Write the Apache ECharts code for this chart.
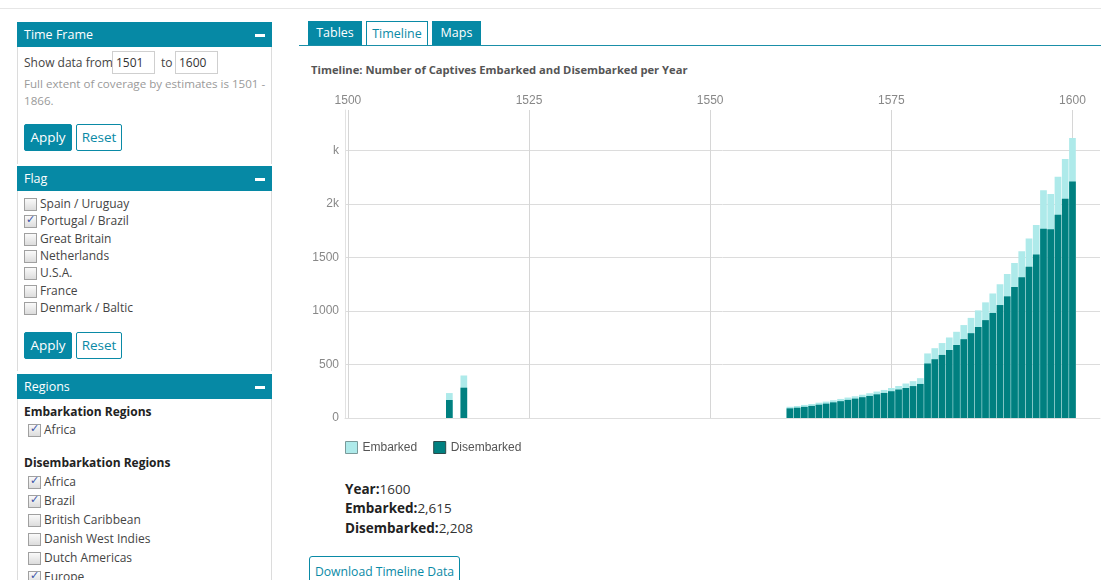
<!DOCTYPE html>
<html>
<head>
<meta charset="utf-8">
<script src="https://cdn.jsdelivr.net/npm/echarts@6/dist/echarts.min.js"></script>
<style>
  html,body{margin:0;padding:0;width:1101px;height:580px;overflow:hidden;background:#fff;font-family:"Open Sans",sans-serif;color:#444;}
  .abs{position:absolute;white-space:nowrap;}
  .topline{position:absolute;left:0;top:8px;width:1101px;height:0;border-top:1px solid #e6e6e6;}
  .panel{position:absolute;left:17px;width:253px;border:1px solid #dcdcdc;border-top:none;background:#fff;}
  .phead{position:absolute;left:17px;width:255px;height:25px;background:#0689a5;color:#fff;font-size:12.5px;line-height:25px;}
  .phead span{position:absolute;left:7px;top:0;}
  .phead i{position:absolute;right:7px;top:12px;width:10px;height:3px;background:#fff;}
  .txt{position:absolute;white-space:nowrap;font-size:12px;line-height:16px;color:#444;}
  .note{position:absolute;font-size:12px;line-height:17px;color:#9a9a9a;white-space:nowrap;}
  .inp{position:absolute;width:43px;border:1px solid #cfcfcf;font-size:12px;line-height:21px;color:#333;padding-left:3px;box-sizing:border-box;height:23px;}
  .btn{position:absolute;height:27px;box-sizing:border-box;font-size:13.5px;line-height:25px;text-align:center;border-radius:2px;white-space:nowrap;}
  .btn.fill{background:#0689a5;color:#fff;border:1px solid #0689a5;}
  .btn.line{background:#fff;color:#0a8aa6;border:1px solid #0a8aa6;}
  .cb{position:absolute;width:11px;height:11px;border:1px solid #a0a0a0;background:linear-gradient(#fafafa,#dcdcdc);}
  .cb.on::after{content:"\2713";position:absolute;left:1px;top:-3px;font-size:11px;color:#3b55a8;font-family:"DejaVu Sans",sans-serif;}
  .bold{font-weight:bold;color:#222;}
  .tab{position:absolute;top:21px;height:24px;box-sizing:border-box;font-size:12.5px;line-height:23px;text-align:center;}
  .tab.fill{background:#0689a5;color:#fff;}
  .tab.line{background:#fff;color:#0a8aa6;border:1px solid #0a8aa6;border-bottom:none;}
  .info{position:absolute;left:345px;font-size:13.5px;line-height:18px;color:#333;}
  .info b{color:#222;}
</style>
</head>
<body>
<div class="topline"></div>

<!-- Time Frame panel -->
<div class="panel" style="top:47px;height:117px;border-bottom:none;"></div>
<div class="phead" style="top:22px;"><span>Time Frame</span><i></i></div>
<div class="txt" style="left:24px;top:55px;">Show data from</div>
<div class="inp" style="left:112px;top:51px;">1501</div>
<div class="txt" style="left:161px;top:55px;">to</div>
<div class="inp" style="left:175px;top:51px;">1600</div>
<div class="note" style="left:24px;top:75px;font-size:11.6px;">Full extent of coverage by estimates is 1501 -<br>1866.</div>
<div class="btn fill" style="left:24px;top:124px;width:48px;">Apply</div>
<div class="btn line" style="left:76px;top:124px;width:46px;">Reset</div>

<!-- Flag panel -->
<div class="panel" style="top:191px;height:180px;border-bottom:none;"></div>
<div class="phead" style="top:166px;"><span>Flag</span><i></i></div>
<div id="flags"></div>
<div class="btn fill" style="left:24px;top:332px;width:48px;">Apply</div>
<div class="btn line" style="left:76px;top:332px;width:46px;">Reset</div>

<!-- Regions panel -->
<div class="panel" style="top:399px;height:200px;"></div>
<div class="phead" style="top:374px;"><span>Regions</span><i></i></div>
<div class="txt bold" style="left:24px;top:404px;">Embarkation Regions</div>
<div id="emb"></div>
<div class="txt bold" style="left:24px;top:455px;">Disembarkation Regions</div>
<div id="dis"></div>

<!-- Right side -->
<div class="tab fill" style="left:308px;width:54px;">Tables</div>
<div class="tab line" style="left:366px;width:62px;">Timeline</div>
<div class="tab fill" style="left:432px;width:49px;">Maps</div>
<div class="abs" style="left:299px;top:45px;width:802px;height:0;border-top:1px solid #1a8fa8;"></div>
<div class="txt" style="left:311px;top:62px;font-weight:bold;color:#555;font-size:11.2px;">Timeline: Number of Captives Embarked and Disembarked per Year</div>

<div id="chart" style="position:absolute;left:300px;top:85px;width:801px;height:380px;"></div>

<div class="info" style="top:480px;"><b>Year:</b>1600</div>
<div class="info" style="top:499px;"><b>Embarked:</b>2,615</div>
<div class="info" style="top:519px;"><b>Disembarked:</b>2,208</div>
<div class="btn line" style="left:309px;top:556px;width:151px;height:30px;line-height:29px;font-size:12.2px;border-radius:3px;">Download Timeline Data</div>

<script>
// ---- data ----
const xTicks = [1500, 1525, 1550, 1575, 1600];
const yTicks = [0, 500, 1000, 1500, 2000, 2500];
const yTickLabels = ['0', '500', '1000', '1500', '2k', 'k'];
const years = [1514, 1516,
  1561, 1562, 1563, 1564, 1565, 1566, 1567, 1568, 1569, 1570,
  1571, 1572, 1573, 1574, 1575, 1576, 1577, 1578, 1579, 1580,
  1581, 1582, 1583, 1584, 1585, 1586, 1587, 1588, 1589, 1590,
  1591, 1592, 1593, 1594, 1595, 1596, 1597, 1598, 1599, 1600];
const embarked = [233, 397,
  105, 112, 122, 131, 143, 153, 166, 178, 191, 203,
  217, 231, 247, 262, 280, 299, 322, 344, 372, 603,
  652, 700, 752, 805, 868, 935, 1005, 1080, 1163, 1250,
  1346, 1447, 1557, 1677, 1803, 2127, 2093, 2252, 2420, 2615];
const disembarked = [168, 283,
  90, 96, 104, 113, 124, 134, 146, 157, 169, 181,
  194, 206, 221, 234, 250, 266, 280, 298, 318, 509,
  549, 589, 635, 682, 736, 792, 850, 914, 981, 1055,
  1136, 1223, 1315, 1413, 1526, 1768, 1763, 1898, 2048, 2208];
const legendNames = ['Embarked', 'Disembarked'];
const flagNames = ['Spain / Uruguay', 'Portugal / Brazil', 'Great Britain', 'Netherlands', 'U.S.A.', 'France', 'Denmark / Baltic'];
const flagChecked = [false, true, false, false, false, false, false];
const embRegions = ['Africa'];
const embChecked = [true];
const disRegions = ['Africa', 'Brazil', 'British Caribbean', 'Danish West Indies', 'Dutch Americas', 'Europe'];
const disChecked = [true, true, false, false, false, true];

// ---- sidebar lists ----
function addList(id, names, checked, x, y0, step) {
  const host = document.getElementById(id);
  names.forEach((n, i) => {
    const cy = y0 + i * step;
    const b = document.createElement('div');
    b.className = 'cb' + (checked[i] ? ' on' : '');
    b.style.left = x + 'px'; b.style.top = (cy - 6) + 'px';
    host.appendChild(b);
    const t = document.createElement('div');
    t.className = 'txt';
    t.textContent = n;
    t.style.left = (x + 16) + 'px'; t.style.top = (cy - 8) + 'px';
    host.appendChild(t);
  });
}
addList('flags', flagNames, flagChecked, 24, 204, 17.3);
addList('emb', embRegions, embChecked, 28, 430, 19);
addList('dis', disRegions, disChecked, 28, 482, 19);

// ---- chart ----
const chart = echarts.init(document.getElementById('chart'), null, {renderer: 'canvas'});
const font = 'Liberation Sans, Arial, sans-serif';
chart.setOption({
  animation: false,
  textStyle: {fontFamily: font},
  grid: {left: 45, right: 1, top: 25, bottom: 47, containLabel: false},
  legend: {
    left: 45, top: 356, padding: 0, itemWidth: 12, itemHeight: 12, itemGap: 16,
    icon: 'rect',
    textStyle: {color: '#555', fontSize: 12, fontFamily: font},
    data: [
      {name: legendNames[0], itemStyle: {borderColor: '#7a9a9a', borderWidth: 1}},
      {name: legendNames[1], itemStyle: {borderColor: '#2a4a4a', borderWidth: 1}}
    ]
  },
  xAxis: {
    type: 'value', position: 'top', min: 1499.6, max: 1603.8,
    axisLine: {show: true, lineStyle: {color: '#dedede'}},
    axisTick: {show: false, customValues: xTicks},
    axisLabel: {customValues: xTicks, color: '#888', fontSize: 12, margin: 3, fontFamily: font,
      formatter: v => String(v)},
    splitLine: {show: true, lineStyle: {color: '#d6d6d6'}}
  },
  yAxis: {
    type: 'value', min: 0, max: 2876.5,
    axisLine: {show: true, lineStyle: {color: '#e2e2e2'}},
    axisTick: {show: false, customValues: yTicks},
    axisLabel: {customValues: yTicks, color: '#888', fontSize: 12, margin: 6, fontFamily: font,
      formatter: v => { const i = yTicks.indexOf(v); return i >= 0 ? yTickLabels[i] : ''; }},
    splitLine: {show: true, lineStyle: {color: '#dcdcdc'}}
  },
  series: [
    {name: legendNames[0], type: 'bar', barWidth: 6.7, barGap: '-100%',
     itemStyle: {color: '#aeeaea'}, data: years.map((y, i) => [y, embarked[i]])},
    {name: legendNames[1], type: 'bar', barWidth: 6.7, barGap: '-100%',
     itemStyle: {color: '#008080'}, data: years.map((y, i) => [y, disembarked[i]])}
  ]
});
</script>
</body>
</html>
